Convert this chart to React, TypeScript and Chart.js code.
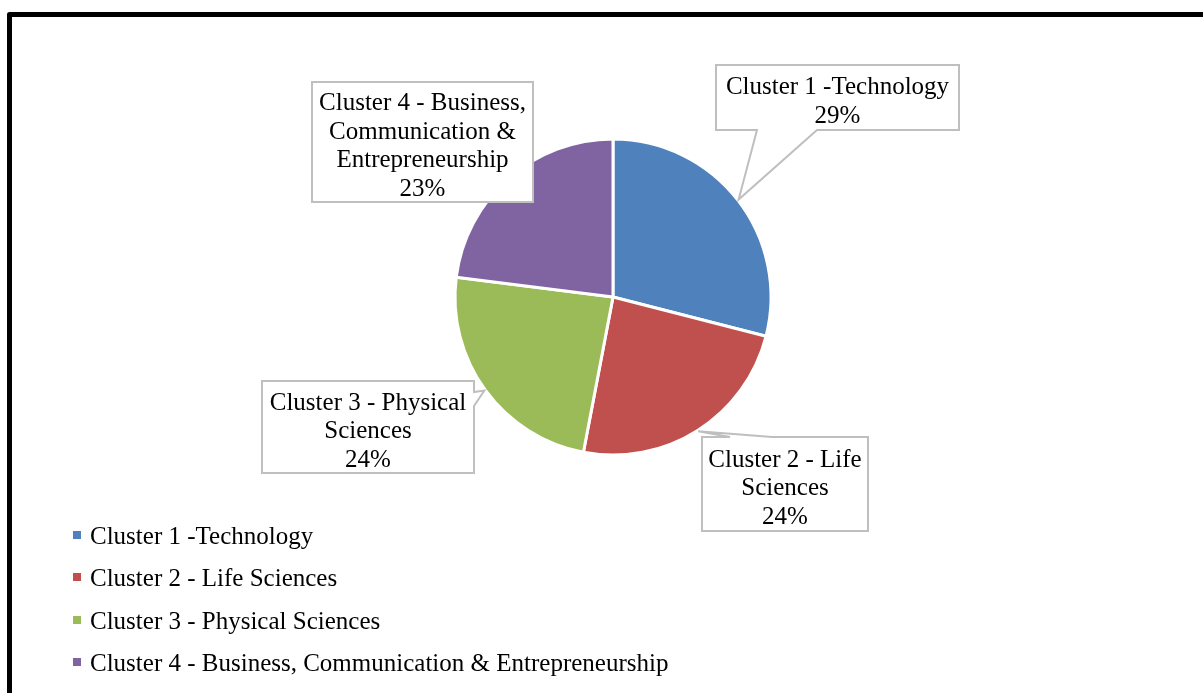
import React, { useEffect, useRef } from "react";
import { Chart, registerables } from "chart.js";

Chart.register(...registerables);

// ---- data ----
const categories = [
  "Cluster 1 -Technology",
  "Cluster 2 - Life Sciences",
  "Cluster 3 - Physical Sciences",
  "Cluster 4 - Business, Communication & Entrepreneurship",
];
const calloutText = [
  ["Cluster 1 -Technology"],
  ["Cluster 2 - Life", "Sciences"],
  ["Cluster 3 - Physical", "Sciences"],
  ["Cluster 4 - Business,", "Communication &", "Entrepreneurship"],
];
const shares = [29, 24, 24, 23];
const sliceColors = ["#4F81BD", "#C0504D", "#9BBB59", "#8064A2"];

// ---- layout ----
const W = 1203;
const H = 693;
const FONT = '25px "Liberation Serif", "Times New Roman", serif';
const LINE_H = 28.5;

type Tail = { edge: "top" | "bottom" | "right"; a: number; b: number } | null;
const calloutBoxes: { x: number; y: number; w: number; h: number; tail: Tail }[] = [
  { x: 716, y: 65, w: 243, h: 65, tail: { edge: "bottom", a: 757, b: 817 } },
  { x: 702, y: 437, w: 166, h: 94, tail: { edge: "top", a: 730, b: 772 } },
  { x: 262, y: 381, w: 212, h: 92, tail: { edge: "right", a: 392, b: 406 } },
  { x: 312, y: 82, w: 221, h: 120, tail: null },
];

const decorPlugin = {
  id: "decor",
  beforeDraw(chart: any) {
    const ctx = chart.ctx as CanvasRenderingContext2D;
    ctx.save();
    ctx.fillStyle = "#ffffff";
    ctx.fillRect(0, 0, W, H);
    ctx.strokeStyle = "#000000";
    ctx.lineWidth = 5;
    ctx.lineJoin = "round";
    ctx.strokeRect(9.5, 14.5, W + 60, H + 60);
    ctx.restore();
  },
  afterDraw(chart: any) {
    const ctx = chart.ctx as CanvasRenderingContext2D;
    const meta = chart.getDatasetMeta(0);
    const values = chart.data.datasets[0].data as number[];
    const total = values.reduce((s, v) => s + v, 0);
    ctx.save();
    ctx.font = FONT;
    meta.data.forEach((el: any, i: number) => {
      const p = el.getProps(["x", "y", "startAngle", "endAngle", "outerRadius"], true);
      const mid = (p.startAngle + p.endAngle) / 2;
      const tx = p.x + Math.cos(mid) * (p.outerRadius + 1);
      const ty = p.y + Math.sin(mid) * (p.outerRadius + 1);
      const b = calloutBoxes[i];
      const x0 = b.x, y0 = b.y, x1 = b.x + b.w, y1 = b.y + b.h;
      ctx.beginPath();
      ctx.moveTo(x0, y0);
      if (b.tail && b.tail.edge === "top") {
        ctx.lineTo(b.tail.a, y0);
        ctx.lineTo(tx, ty);
        ctx.lineTo(b.tail.b, y0);
      }
      ctx.lineTo(x1, y0);
      if (b.tail && b.tail.edge === "right") {
        ctx.lineTo(x1, b.tail.a);
        ctx.lineTo(tx, ty);
        ctx.lineTo(x1, b.tail.b);
      }
      ctx.lineTo(x1, y1);
      if (b.tail && b.tail.edge === "bottom") {
        ctx.lineTo(b.tail.b, y1);
        ctx.lineTo(tx, ty);
        ctx.lineTo(b.tail.a, y1);
      }
      ctx.lineTo(x0, y1);
      ctx.closePath();
      ctx.fillStyle = "#ffffff";
      ctx.fill();
      ctx.strokeStyle = "#BFBFBF";
      ctx.lineWidth = 2;
      ctx.lineJoin = "miter";
      ctx.stroke();

      const lines = [...calloutText[i], Math.round((values[i] / total) * 100) + "%"];
      ctx.fillStyle = "#000000";
      ctx.textAlign = "center";
      ctx.textBaseline = "alphabetic";
      const cx = b.x + b.w / 2;
      const cy = b.y + b.h / 2;
      lines.forEach((t, j) => {
        ctx.fillText(t, cx, cy + (j - (lines.length - 1) / 2) * LINE_H + 11);
      });
    });

    // legend
    const labels = chart.data.labels as string[];
    const colors = chart.data.datasets[0].backgroundColor as string[];
    labels.forEach((lab, i) => {
      const base = 544 + i * 42.3;
      ctx.fillStyle = colors[i];
      ctx.fillRect(73, Math.round(base - 13), 8, 8);
      ctx.fillStyle = "#000000";
      ctx.textAlign = "left";
      ctx.textBaseline = "alphabetic";
      ctx.fillText(lab, 90, base);
    });
    ctx.restore();
  },
};

export default function App() {
  const canvasRef = useRef<HTMLCanvasElement | null>(null);

  useEffect(() => {
    if (!canvasRef.current) return;
    const chart = new Chart(canvasRef.current, {
      type: "pie",
      data: {
        labels: categories,
        datasets: [
          {
            data: shares,
            backgroundColor: sliceColors,
            borderColor: "#ffffff",
            borderWidth: 3,
            radius: 158,
          } as any,
        ],
      },
      options: {
        responsive: false,
        animation: false,
        devicePixelRatio: 1,
        layout: { padding: { left: 300, right: 277, top: 100, bottom: 199 } },
        plugins: {
          legend: { display: false },
          tooltip: { enabled: false },
        },
      },
      plugins: [decorPlugin],
    });
    return () => chart.destroy();
  }, []);

  return (
    <div style={{ position: "fixed", left: 0, top: 0, width: W, height: H, background: "#fff" }}>
      <canvas ref={canvasRef} width={W} height={H} style={{ width: W, height: H, display: "block" }} />
    </div>
  );
}
